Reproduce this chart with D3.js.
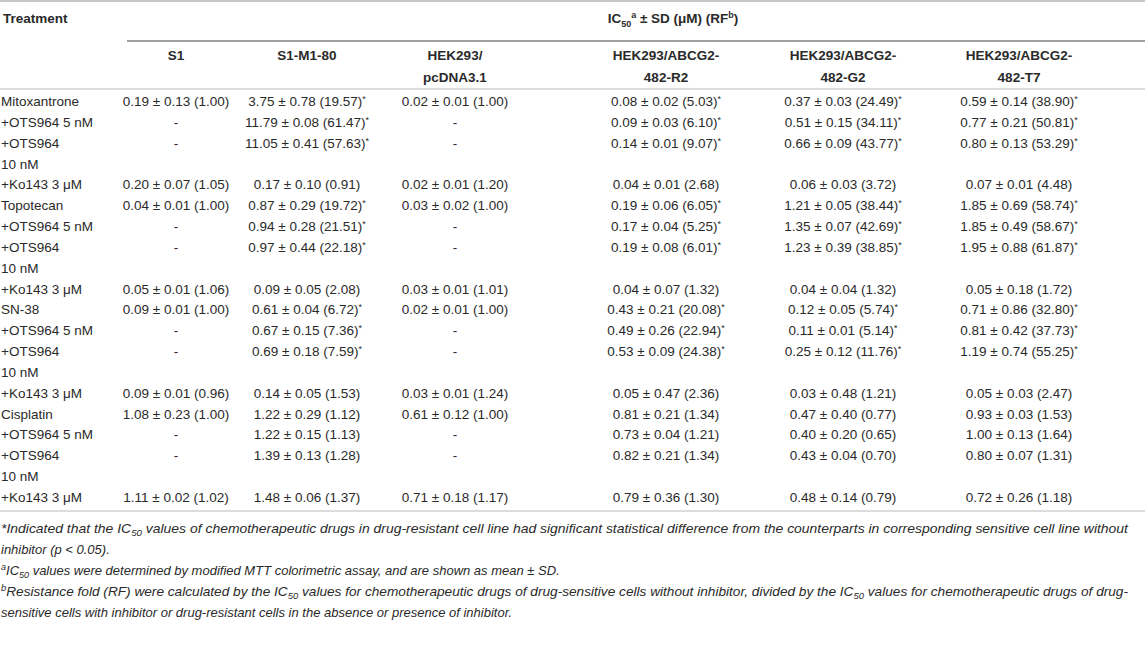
<!DOCTYPE html>
<html>
<head>
<meta charset="utf-8">
<script src="https://cdn.jsdelivr.net/npm/d3@7"></script>
<style>
body { margin: 0; background: #fff; }
text { font-family: "Liberation Sans", Arial, sans-serif; fill: #2a2a2a; }
</style>
</head>
<body>
<div id="table"></div>
<script>
// row labels, "\n" means the label wraps onto a second line
const treatments = ["Mitoxantrone", "+OTS964 5 nM", "+OTS964\n10 nM", "+Ko143 3 \u03bcM",
    "Topotecan", "+OTS964 5 nM", "+OTS964\n10 nM", "+Ko143 3 \u03bcM",
    "SN-38", "+OTS964 5 nM", "+OTS964\n10 nM", "+Ko143 3 \u03bcM",
    "Cisplatin", "+OTS964 5 nM", "+OTS964\n10 nM", "+Ko143 3 \u03bcM"];

const cellLines = [["S1"], ["S1-M1-80"], ["HEK293/", "pcDNA3.1"],
    ["HEK293/ABCG2-", "482-R2"], ["HEK293/ABCG2-", "482-G2"], ["HEK293/ABCG2-", "482-T7"]];

const s1 = ["0.19 \u00b1 0.13 (1.00)", "-", "-", "0.20 \u00b1 0.07 (1.05)",
    "0.04 \u00b1 0.01 (1.00)", "-", "-", "0.05 \u00b1 0.01 (1.06)",
    "0.09 \u00b1 0.01 (1.00)", "-", "-", "0.09 \u00b1 0.01 (0.96)",
    "1.08 \u00b1 0.23 (1.00)", "-", "-", "1.11 \u00b1 0.02 (1.02)"];

const s1m180 = ["3.75 \u00b1 0.78 (19.57)*", "11.79 \u00b1 0.08 (61.47)*", "11.05 \u00b1 0.41 (57.63)*", "0.17 \u00b1 0.10 (0.91)",
    "0.87 \u00b1 0.29 (19.72)*", "0.94 \u00b1 0.28 (21.51)*", "0.97 \u00b1 0.44 (22.18)*", "0.09 \u00b1 0.05 (2.08)",
    "0.61 \u00b1 0.04 (6.72)*", "0.67 \u00b1 0.15 (7.36)*", "0.69 \u00b1 0.18 (7.59)*", "0.14 \u00b1 0.05 (1.53)",
    "1.22 \u00b1 0.29 (1.12)", "1.22 \u00b1 0.15 (1.13)", "1.39 \u00b1 0.13 (1.28)", "1.48 \u00b1 0.06 (1.37)"];

const pcdna = ["0.02 \u00b1 0.01 (1.00)", "-", "-", "0.02 \u00b1 0.01 (1.20)",
    "0.03 \u00b1 0.02 (1.00)", "-", "-", "0.03 \u00b1 0.01 (1.01)",
    "0.02 \u00b1 0.01 (1.00)", "-", "-", "0.03 \u00b1 0.01 (1.24)",
    "0.61 \u00b1 0.12 (1.00)", "-", "-", "0.71 \u00b1 0.18 (1.17)"];

const r2 = ["0.08 \u00b1 0.02 (5.03)*", "0.09 \u00b1 0.03 (6.10)*", "0.14 \u00b1 0.01 (9.07)*", "0.04 \u00b1 0.01 (2.68)",
    "0.19 \u00b1 0.06 (6.05)*", "0.17 \u00b1 0.04 (5.25)*", "0.19 \u00b1 0.08 (6.01)*", "0.04 \u00b1 0.07 (1.32)",
    "0.43 \u00b1 0.21 (20.08)*", "0.49 \u00b1 0.26 (22.94)*", "0.53 \u00b1 0.09 (24.38)*", "0.05 \u00b1 0.47 (2.36)",
    "0.81 \u00b1 0.21 (1.34)", "0.73 \u00b1 0.04 (1.21)", "0.82 \u00b1 0.21 (1.34)", "0.79 \u00b1 0.36 (1.30)"];

const g2 = ["0.37 \u00b1 0.03 (24.49)*", "0.51 \u00b1 0.15 (34.11)*", "0.66 \u00b1 0.09 (43.77)*", "0.06 \u00b1 0.03 (3.72)",
    "1.21 \u00b1 0.05 (38.44)*", "1.35 \u00b1 0.07 (42.69)*", "1.23 \u00b1 0.39 (38.85)*", "0.04 \u00b1 0.04 (1.32)",
    "0.12 \u00b1 0.05 (5.74)*", "0.11 \u00b1 0.01 (5.14)*", "0.25 \u00b1 0.12 (11.76)*", "0.03 \u00b1 0.48 (1.21)",
    "0.47 \u00b1 0.40 (0.77)", "0.40 \u00b1 0.20 (0.65)", "0.43 \u00b1 0.04 (0.70)", "0.48 \u00b1 0.14 (0.79)"];

const t7 = ["0.59 \u00b1 0.14 (38.90)*", "0.77 \u00b1 0.21 (50.81)*", "0.80 \u00b1 0.13 (53.29)*", "0.07 \u00b1 0.01 (4.48)",
    "1.85 \u00b1 0.69 (58.74)*", "1.85 \u00b1 0.49 (58.67)*", "1.95 \u00b1 0.88 (61.87)*", "0.05 \u00b1 0.18 (1.72)",
    "0.71 \u00b1 0.86 (32.80)*", "0.81 \u00b1 0.42 (37.73)*", "1.19 \u00b1 0.74 (55.25)*", "0.05 \u00b1 0.03 (2.47)",
    "0.93 \u00b1 0.03 (1.53)", "1.00 \u00b1 0.13 (1.64)", "0.80 \u00b1 0.07 (1.31)", "0.72 \u00b1 0.26 (1.18)"];

const columns = [s1, s1m180, pcdna, r2, g2, t7];

// footnote lines as [text, kind] pieces
const footnotes = [
    [["*Indicated that the IC", ""], ["50", "sub"], [" values of chemotherapeutic drugs in drug-resistant cell line had significant statistical difference from the counterparts in corresponding sensitive cell line without", ""]],
    [["inhibitor (p < 0.05).", ""]],
    [["a", "sup"], ["IC", ""], ["50", "sub"], [" values were determined by modified MTT colorimetric assay, and are shown as mean \u00b1 SD.", ""]],
    [["b", "sup"], ["Resistance fold (RF) were calculated by the IC", ""], ["50", "sub"], [" values for chemotherapeutic drugs of drug-sensitive cells without inhibitor, divided by the IC", ""], ["50", "sub"], [" values for chemotherapeutic drugs of drug-", ""]],
    [["sensitive cells with inhibitor or drug-resistant cells in the absence or presence of inhibitor.", ""]]
];
const footnoteFit = [1127, null, null, 1127, null];

var width = 1145, height = 645;

var svg = d3.select("#table")
.append("svg")
.attr("width", width)
.attr("height", height);

// line index of each row (wrapped labels take two lines)
var rowLine = [];
var n = 0;
treatments.forEach(function (t) {
    rowLine.push(n);
    n += t.split("\n").length;
});

var x = d3.scaleOrdinal()
.domain(d3.range(columns.length))
.range([176, 307, 455, 666, 843, 1019]);

var y = d3.scaleLinear()
.domain([0, n - 1])
.range([101, 497]);

var noteY = d3.scaleLinear()
.domain([0, footnotes.length - 1])
.range([528, 612]);

var rule = function (x1, x2, yy, col, w) {
    svg.append("line")
    .attr("x1", x1).attr("x2", x2)
    .attr("y1", yy).attr("y2", yy)
    .attr("stroke", col)
    .attr("stroke-width", w);
};
rule(0, width, 1, "#c8c8c8", 2);
rule(127, width, 41, "#444", 1);
rule(0, width, 89, "#d0d0d0", 1.5);
rule(0, width, 511, "#d0d0d0", 1.5);

// header
svg.append("text")
.attr("x", 3).attr("y", 23)
.style("font-size", "13.5px").style("font-weight", "bold")
.text("Treatment");

var ic = svg.append("text")
.attr("x", 673).attr("y", 23)
.attr("text-anchor", "middle")
.style("font-size", "13.5px").style("font-weight", "bold");
ic.append("tspan").text("IC");
ic.append("tspan").attr("dy", 4).style("font-size", "9px").text("50");
ic.append("tspan").attr("dy", -9).style("font-size", "9px").text("a");
ic.append("tspan").attr("dy", 5).text(" \u00b1 SD (\u03bcM) (RF");
ic.append("tspan").attr("dy", -5).style("font-size", "9px").text("b");
ic.append("tspan").attr("dy", 5).text(")");

svg.selectAll(".colhead")
.data(cellLines)
.enter()
.append("text")
.attr("class", "colhead")
.attr("text-anchor", "middle")
.style("font-size", "13.5px").style("font-weight", "bold")
.each(function (lines, i) {
    d3.select(this).selectAll("tspan")
    .data(lines)
    .enter()
    .append("tspan")
    .attr("x", x(i))
    .attr("y", function (l, j) { return 60 + j * 22; })
    .text(function (l) { return l; });
});

// row labels
svg.selectAll(".rowlabel")
.data(treatments)
.enter()
.append("text")
.attr("class", "rowlabel")
.style("font-size", "13.5px")
.each(function (t, i) {
    d3.select(this).selectAll("tspan")
    .data(t.split("\n"))
    .enter()
    .append("tspan")
    .attr("x", 1)
    .attr("y", function (l, j) { return y(rowLine[i] + j) + 5; })
    .text(function (l) { return l; });
});

// value cells
columns.forEach(function (col, c) {
    svg.append("g")
    .selectAll("text")
    .data(col)
    .enter()
    .append("text")
    .attr("x", x(c))
    .attr("y", function (d, i) { return y(rowLine[i]) + 5; })
    .attr("text-anchor", "middle")
    .style("font-size", "13.5px")
    .each(function (d) {
        var el = d3.select(this);
        var star = d.slice(-1) === "*";
        el.append("tspan").text(star ? d.slice(0, -1) : d);
        if (star)
            el.append("tspan").attr("dy", -4).style("font-size", "9px").text("*");
    });
});

// footnotes
svg.selectAll(".note")
.data(footnotes)
.enter()
.append("text")
.attr("class", "note")
.attr("x", 1)
.attr("y", function (d, i) { return noteY(i) + 4.5; })
.style("font-size", "13px")
.style("font-style", "italic")
.each(function (parts, i) {
    var el = d3.select(this);
    if (footnoteFit[i])
        el.attr("textLength", footnoteFit[i]).attr("lengthAdjust", "spacingAndGlyphs");
    var shift = 0;
    parts.forEach(function (p) {
        var ts = el.append("tspan").text(p[0]);
        var target = p[1] === "sub" ? 3 : p[1] === "sup" ? -5 : 0;
        if (target !== shift) ts.attr("dy", target - shift);
        shift = target;
        if (p[1]) ts.style("font-size", "9px");
    });
});
</script>
</body>
</html>
